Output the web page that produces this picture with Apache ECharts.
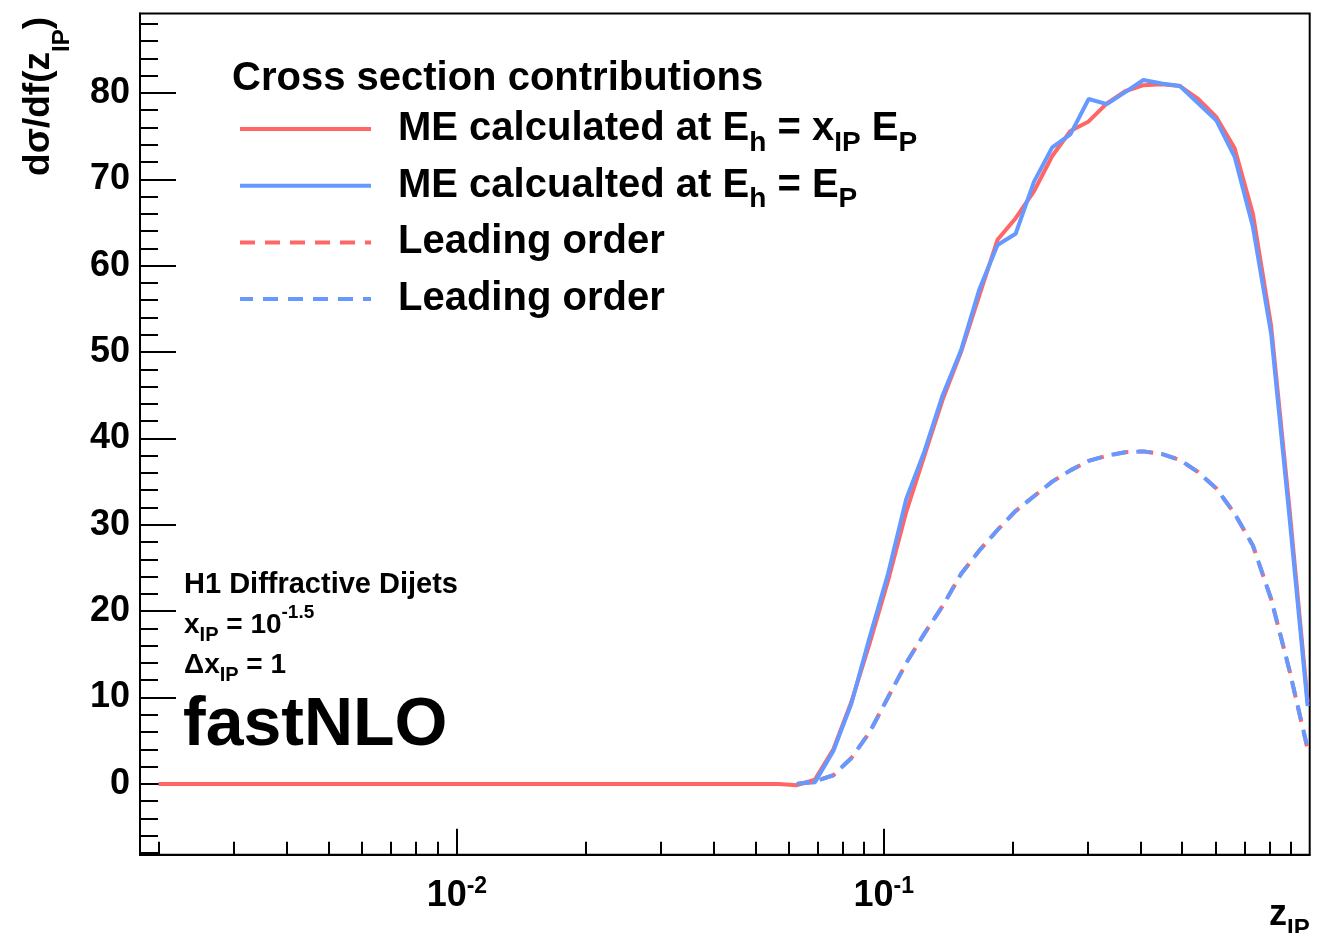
<!DOCTYPE html>
<html>
<head>
<meta charset="utf-8">
<title>Cross section contributions</title>
<script src="https://cdn.jsdelivr.net/npm/echarts@6.0.0/dist/echarts.min.js"></script>
<style>
html, body { margin: 0; padding: 0; background: #ffffff; }
#chart { width: 1331px; height: 933px; }
</style>
</head>
<body>
<div id="chart"></div>
<script>
// ---- data ----
const zIP = [0.002, 0.0567, 0.0626, 0.0690, 0.0762, 0.0840, 0.0927, 0.1023, 0.1129, 0.1245, 0.1374,
  0.1517, 0.1673, 0.1847, 0.2037, 0.2248, 0.2481, 0.2737, 0.3020, 0.3332, 0.3678,
  0.4057, 0.4477, 0.4941, 0.5452, 0.6016, 0.6637, 0.7324, 0.8082, 0.8916, 0.9840];

// ME calculated at E_h = x_IP E_P (red, solid)
const meXipEp = [0, 0.0, -0.15, 0.5, 4.0, 9.5, 16.3, 23.5, 31.5, 38.0, 44.5,
  50.0, 56.5, 63.0, 65.5, 68.6, 72.7, 75.6, 76.7, 78.8, 80.2,
  80.9, 81.0, 80.8, 79.3, 77.2, 73.6, 66.0, 53.0, 32.0, 9.5];

// ME calcualted at E_h = E_P (blue, solid)
const meEp = [null, null, 0.0, 0.2, 3.8, 9.3, 17.0, 24.3, 33.0, 38.5, 45.0,
  50.2, 57.2, 62.4, 63.7, 69.7, 73.7, 75.2, 79.3, 78.7, 80.1,
  81.5, 81.1, 80.8, 78.8, 76.8, 72.6, 64.5, 52.1, 31.0, 9.0];

// Leading order (red, dashed)
const loRed = [null, null, 0.0, 0.3, 1.0, 3.0, 6.0, 10.0, 14.0, 17.4, 20.6,
  24.3, 27.0, 29.4, 31.6, 33.3, 35.0, 36.3, 37.4, 38.0, 38.4,
  38.5, 38.2, 37.5, 36.1, 34.2, 31.3, 27.6, 21.4, 13.2, 4.0];

// Leading order (blue, dashed)
const loBlue = [null, null, 0.0, 0.3, 1.0, 3.0, 6.0, 10.0, 14.0, 17.4, 20.6,
  24.3, 27.0, 29.4, 31.6, 33.3, 35.0, 36.3, 37.4, 38.0, 38.4,
  38.5, 38.2, 37.5, 36.1, 34.2, 31.3, 27.6, 21.4, 13.2, 4.1];

// ticks
const xMajorTicks = [0.01, 0.1];
const xMinorTicks = [0.002, 0.003, 0.004, 0.005, 0.006, 0.007, 0.008, 0.009,
  0.02, 0.03, 0.04, 0.05, 0.06, 0.07, 0.08, 0.09,
  0.2, 0.3, 0.4, 0.5, 0.6, 0.7, 0.8, 0.9];
const yMajorTicks = [0, 10, 20, 30, 40, 50, 60, 70, 80];
const yMinorTicks = [-8, -6, -4, -2, 2, 4, 6, 8, 12, 14, 16, 18, 22, 24, 26, 28,
  32, 34, 36, 38, 42, 44, 46, 48, 52, 54, 56, 58, 62, 64, 66, 68,
  72, 74, 76, 78, 82, 84, 86, 88];

// ---- styling ----
const FONT = '"Liberation Sans", Arial, Helvetica, sans-serif';
const RED = '#ff6666';
const BLUE = '#6699ff';
const BLACK = '#000000';
const X_MIN = 0.00181, X_MAX = 0.995;
const Y_MIN = -8.2, Y_MAX = 89.2;
const LW = 4;
const DASH = [15, 10];

function pairs(arr) {
  const out = [];
  for (let i = 0; i < zIP.length; i++) {
    if (arr[i] !== null) out.push([zIP[i], arr[i]]);
  }
  return out;
}

const legendLabels = {
  'meXipEp': '{t|ME calculated at E}{s|h}{t| = x}{s|IP}{t| E}{s|P}',
  'meEp': '{t|ME calcualted at E}{s|h}{t| = E}{s|P}',
  'loRed': '{t|Leading order}{s| }',
  'loBlue': '{t|Leading order}{s| }'
};

const chart = echarts.init(document.getElementById('chart'), null, { renderer: 'canvas' });

const option = {
  animation: false,
  backgroundColor: '#ffffff',
  title: {
    text: 'Cross section contributions',
    left: 232, top: 59, padding: 0,
    textStyle: { fontFamily: FONT, fontWeight: 'bold', fontSize: 40, color: BLACK }
  },
  legend: {
    orient: 'vertical', left: 238, top: 109, padding: 0,
    itemGap: 8.7, itemWidth: 131, itemHeight: 14,
    selectedMode: false,
    itemStyle: { opacity: 0 },
    lineStyle: { width: LW },
    data: ['meXipEp', 'meEp', 'loRed', 'loBlue'],
    formatter: function (name) { return legendLabels[name]; },
    textStyle: {
      fontFamily: FONT, fontWeight: 'bold', fontSize: 40, color: BLACK,
      padding: [0, 0, 0, 22],
      rich: {
        t: { fontFamily: FONT, fontWeight: 'bold', fontSize: 40, lineHeight: 40, color: BLACK, verticalAlign: 'top' },
        s: { fontFamily: FONT, fontWeight: 'bold', fontSize: 28, lineHeight: 28, color: BLACK, verticalAlign: 'top', padding: [20, 0, 0, 0] }
      }
    }
  },
  grid: {
    left: 140, right: 21.3, top: 13.5, bottom: 78.3,
    show: true, borderColor: BLACK, borderWidth: 2, backgroundColor: 'transparent',
    containLabel: false, outerBoundsMode: 'none'
  },
  xAxis: [
    {
      type: 'log', logBase: 10, min: X_MIN, max: X_MAX, position: 'bottom',
      axisLine: { show: true, onZero: false, lineStyle: { color: BLACK, width: 2 } },
      axisTick: { show: true, inside: true, length: 26, customValues: xMajorTicks, lineStyle: { color: BLACK, width: 2 } },
      minorTick: { show: false },
      splitLine: { show: false },
      axisLabel: {
        show: true, customValues: xMajorTicks, margin: 15.6,
        formatter: function (v) { return '{b|10}{p|' + Math.round(Math.log10(v)) + '}'; },
        rich: {
          b: { fontFamily: FONT, fontWeight: 'bold', fontSize: 36, lineHeight: 36, color: BLACK, verticalAlign: 'top', padding: [8, 0, 0, 0] },
          p: { fontFamily: FONT, fontWeight: 'bold', fontSize: 23, lineHeight: 23, color: BLACK, verticalAlign: 'top', padding: [5, 0, 0, 0] }
        }
      },
      name: '{z|z}{s|IP}',
      nameLocation: 'end', nameGap: 0,
      nameTextStyle: {
        align: 'right', verticalAlign: 'top', padding: [42, 0, 0, 0],
        rich: {
          z: { fontFamily: FONT, fontWeight: 'bold', fontSize: 36, lineHeight: 36, color: BLACK, verticalAlign: 'top' },
          s: { fontFamily: FONT, fontWeight: 'bold', fontSize: 24, lineHeight: 24, color: BLACK, verticalAlign: 'top', padding: [21, 0, 0, 0] }
        }
      }
    },
    {
      type: 'log', logBase: 10, min: X_MIN, max: X_MAX, position: 'bottom', offset: 0,
      axisLine: { show: false, onZero: false },
      axisTick: { show: true, inside: true, length: 13, customValues: xMinorTicks, lineStyle: { color: BLACK, width: 2 } },
      axisLabel: { show: false },
      splitLine: { show: false },
      minorTick: { show: false }
    }
  ],
  yAxis: [
    {
      type: 'value', min: Y_MIN, max: Y_MAX, position: 'left',
      axisLine: { show: true, onZero: false, lineStyle: { color: BLACK, width: 2 } },
      axisTick: { show: true, inside: true, length: 36, customValues: yMajorTicks, lineStyle: { color: BLACK, width: 2 } },
      axisLabel: {
        show: true, customValues: yMajorTicks, margin: 10,
        fontFamily: FONT, fontWeight: 'bold', fontSize: 36, color: BLACK
      },
      splitLine: { show: false },
      minorTick: { show: false }
    },
    {
      type: 'value', min: Y_MIN, max: Y_MAX, position: 'left', offset: 0,
      axisLine: { show: false, onZero: false },
      axisTick: { show: true, inside: true, length: 18, customValues: yMinorTicks, lineStyle: { color: BLACK, width: 2 } },
      axisLabel: { show: false },
      splitLine: { show: false },
      minorTick: { show: false }
    }
  ],
  series: [
    {
      name: 'meXipEp', type: 'line', xAxisIndex: 0, yAxisIndex: 0,
      data: pairs(meXipEp), symbol: 'none', showSymbol: false, smooth: false,
      color: RED, lineStyle: { color: RED, width: LW, type: 'solid' }, z: 2
    },
    {
      name: 'meEp', type: 'line', xAxisIndex: 0, yAxisIndex: 0,
      data: pairs(meEp), symbol: 'none', showSymbol: false, smooth: false,
      color: BLUE, lineStyle: { color: BLUE, width: LW, type: 'solid' }, z: 3
    },
    {
      name: 'loRed', type: 'line', xAxisIndex: 0, yAxisIndex: 0,
      data: pairs(loRed), symbol: 'none', showSymbol: false, smooth: false,
      color: RED, lineStyle: { color: RED, width: LW, type: DASH, dashOffset: 0 }, z: 4
    },
    {
      name: 'loBlue', type: 'line', xAxisIndex: 0, yAxisIndex: 0,
      data: pairs(loBlue), symbol: 'none', showSymbol: false, smooth: false,
      color: BLUE, lineStyle: { color: BLUE, width: LW, type: DASH, dashOffset: 2 }, z: 5
    }
  ],
  graphic: [
    {
      type: 'text', x: 20, y: 17, rotation: Math.PI / 2, silent: true,
      style: {
        text: '{a|d\u03c3/df(z}{s|IP}{a|)}',
        align: 'right', verticalAlign: 'top',
        rich: {
          a: { fontFamily: FONT, fontWeight: 'bold', fontSize: 37, lineHeight: 37, fill: BLACK, verticalAlign: 'top' },
          s: { fontFamily: FONT, fontWeight: 'bold', fontSize: 24, lineHeight: 24, fill: BLACK, verticalAlign: 'top', padding: [30, 0, 0, 0] }
        }
      }
    },
    {
      type: 'text', x: 184, y: 585.3, silent: true,
      style: { text: 'H1 Diffractive Dijets', fontFamily: FONT, fontWeight: 'bold', fontSize: 29, fill: BLACK, align: 'left', verticalAlign: 'middle' }
    },
    {
      type: 'text', x: 184, y: 601, silent: true,
      style: {
        text: '{b|x}{s|IP}{b| = 10}{p|-1.5}',
        align: 'left', verticalAlign: 'top',
        rich: {
          b: { fontFamily: FONT, fontWeight: 'bold', fontSize: 28, lineHeight: 28, fill: BLACK, verticalAlign: 'top', padding: [10, 0, 0, 0] },
          s: { fontFamily: FONT, fontWeight: 'bold', fontSize: 20, lineHeight: 20, fill: BLACK, verticalAlign: 'top', padding: [24, 0, 0, 0] },
          p: { fontFamily: FONT, fontWeight: 'bold', fontSize: 19, lineHeight: 19, fill: BLACK, verticalAlign: 'top', padding: [2, 0, 0, 0] }
        }
      }
    },
    {
      type: 'text', x: 184, y: 641.4, silent: true,
      style: {
        text: '{b|\u0394x}{s|IP}{b| = 1}',
        align: 'left', verticalAlign: 'top',
        rich: {
          b: { fontFamily: FONT, fontWeight: 'bold', fontSize: 28, lineHeight: 28, fill: BLACK, verticalAlign: 'top', padding: [10, 0, 0, 0] },
          s: { fontFamily: FONT, fontWeight: 'bold', fontSize: 20, lineHeight: 20, fill: BLACK, verticalAlign: 'top', padding: [24, 0, 0, 0] }
        }
      }
    },
    {
      type: 'text', x: 183, y: 726.5, silent: true,
      style: { text: 'fastNLO', fontFamily: FONT, fontWeight: 'bold', fontSize: 68, fill: BLACK, align: 'left', verticalAlign: 'middle' }
    }
  ]
};

chart.setOption(option);
</script>
</body>
</html>
